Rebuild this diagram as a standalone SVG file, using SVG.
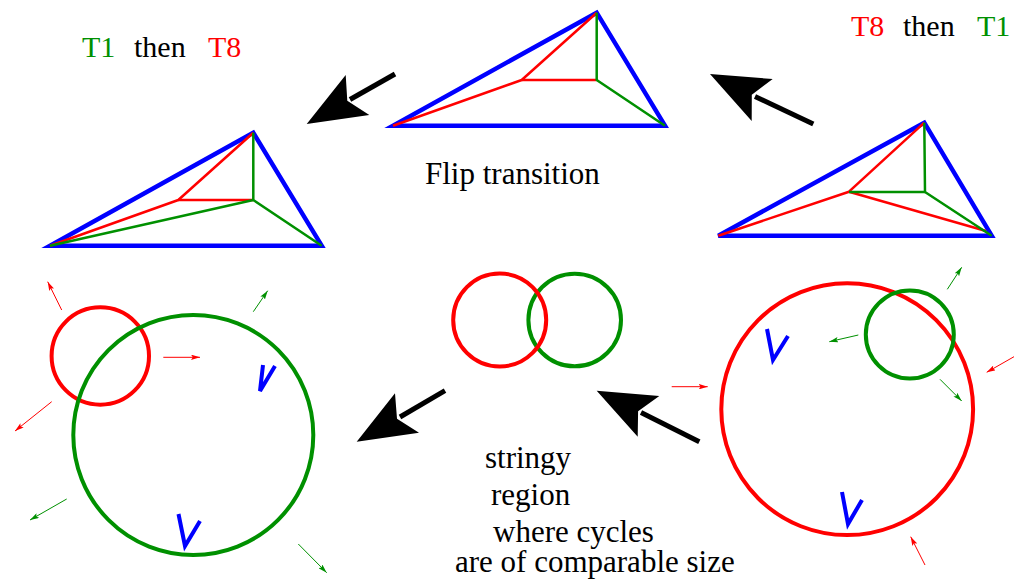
<svg xmlns="http://www.w3.org/2000/svg" width="1014" height="580" viewBox="0 0 1014 580">
<style>
.txt{font-family:"Liberation Serif","Times New Roman",serif;font-size:30px;fill:#000}
.big{font-size:31px}
.g{fill:#009000}.r{fill:#ff0000}
.tri{fill:none;stroke:#0000ff;stroke-width:4.5;stroke-linejoin:miter}
.rl{fill:none;stroke:#ff0000;stroke-width:2.5;stroke-linejoin:round}
.gl{fill:none;stroke:#009000;stroke-width:2.5;stroke-linejoin:round}
.rc{fill:none;stroke:#ff0000;stroke-width:4}
.gc{fill:none;stroke:#009000;stroke-width:4}
.v{fill:none;stroke:#0000ff;stroke-width:4;stroke-linejoin:miter}
.sa-r{stroke:#ff0000;stroke-width:1;marker-end:url(#ah-r)}
.sa-g{stroke:#009000;stroke-width:1;marker-end:url(#ah-g)}
.shaft{stroke:#000;stroke-width:5}
</style>
<defs>
<marker id="ah-r" viewBox="0 0 10 6" refX="10" refY="3" markerWidth="9" markerHeight="5.4" orient="auto" markerUnits="userSpaceOnUse"><path d="M0,0 L10,3 L0,6 L2,3 z" fill="#ff0000"/></marker>
<marker id="ah-g" viewBox="0 0 10 6" refX="10" refY="3" markerWidth="9" markerHeight="5.4" orient="auto" markerUnits="userSpaceOnUse"><path d="M0,0 L10,3 L0,6 L2,3 z" fill="#009000"/></marker>
</defs>
<rect width="1014" height="580" fill="#fff"/>

<g id="label-t1-then-t8">
<text class="txt" x="82" y="57"><tspan class="g">T1</tspan></text>
<text class="txt" x="134" y="57">then</text>
<text class="txt" x="208" y="57"><tspan class="r">T8</tspan></text>
</g>
<g id="label-t8-then-t1">
<text class="txt" x="851" y="36"><tspan class="r">T8</tspan></text>
<text class="txt" x="903" y="36">then</text>
<text class="txt" x="977" y="36"><tspan class="g">T1</tspan></text>
</g>
<g id="label-flip">
<text class="txt big" x="425" y="184">Flip transition</text>
</g>
<g id="label-stringy">
<text class="txt big" x="485" y="468">stringy</text>
<text class="txt big" x="491" y="505">region</text>
<text class="txt big" x="493" y="542">where cycles</text>
<text class="txt big" x="455" y="572">are of comparable size</text>
</g>

<g id="triangle-top">
<polygon class="tri" points="596.7,12.7 393,125.7 665,125.7"/>
<polyline class="rl" points="596.7,12.7 521.7,80 393,125.7"/>
<line class="rl" x1="521.7" y1="80" x2="596.7" y2="80"/>
<polyline class="gl" points="596.7,12.7 596.7,80 665,125.7"/>
</g>

<g id="triangle-left">
<polygon class="tri" points="253.3,132.7 50,245.7 321.7,245.7"/>
<polyline class="rl" points="253.3,132.7 178.3,200 50,245.7"/>
<line class="rl" x1="178.3" y1="200" x2="253.3" y2="200"/>
<polyline class="gl" points="253.3,132.7 253.3,200 321.7,245.7"/>
<line class="gl" x1="253.3" y1="200" x2="50" y2="245.7"/>
</g>

<g id="triangle-right">
<polygon class="tri" points="924.3,122.7 718.3,235.7 991.7,235.7"/>
<polyline class="rl" points="924.3,122.7 849,191.7 718.3,235.7"/>
<line class="rl" x1="849" y1="191.7" x2="986" y2="231"/>
<polyline class="gl" points="924.3,122.7 925,192 991.7,235.7"/>
<line class="gl" x1="849" y1="192" x2="925" y2="192"/>
</g>

<g id="cycles-left">
<circle class="rc" cx="100.3" cy="356" r="48.7"/>
<circle class="gc" cx="193.3" cy="435" r="120"/>
<polyline class="v" points="263,365 260,391 275,366"/>
<polyline class="v" points="178.5,514 185,546 200,521"/>
</g>

<g id="cycles-middle">
<circle class="gc" cx="574.7" cy="320" r="46.3"/>
<circle class="rc" cx="499.7" cy="320" r="46.5"/>
</g>

<g id="cycles-right">
<circle class="rc" cx="847.2" cy="409.2" r="125.9"/>
<circle class="gc" cx="909.8" cy="334.5" r="44"/>
<polyline class="v" points="767,329 773,360 788,336"/>
<polyline class="v" points="842,492 848,524 862,500"/>
</g>

<g id="connectors">
<line class="shaft" x1="395" y1="74" x2="350" y2="99.5"/>
<polygon points="306.7,124 345.7,75 347.3,100.8 369.3,115" fill="#000"/>
<line class="shaft" x1="813.3" y1="124" x2="755" y2="96.5"/>
<polygon points="710,74 772.7,79 751.8,94.8 751.7,121" fill="#000"/>
<line class="shaft" x1="445" y1="390.7" x2="400" y2="417"/>
<polygon points="356.7,441.7 395,393.3 397,418.7 419,432.7" fill="#000"/>
<line class="shaft" x1="699.3" y1="441.7" x2="641" y2="412.5"/>
<polygon points="596.7,390.7 659.3,396 638.1,411.2 637.7,436.7" fill="#000"/>

<line class="sa-r" x1="61.7" y1="310" x2="47.7" y2="281.7"/>
<line class="sa-r" x1="163.3" y1="357.3" x2="200" y2="357.3"/>
<line class="sa-r" x1="51.7" y1="401.7" x2="15" y2="431"/>
<line class="sa-g" x1="253.3" y1="311.7" x2="267.7" y2="290.7"/>
<line class="sa-g" x1="66.7" y1="499" x2="30" y2="520"/>
<line class="sa-g" x1="298.3" y1="544" x2="326.7" y2="572.7"/>

<line class="sa-g" x1="947.3" y1="289.3" x2="961.7" y2="267.3"/>
<line class="sa-g" x1="858.3" y1="335" x2="829.3" y2="341.7"/>
<line class="sa-g" x1="940" y1="379.3" x2="961.7" y2="401"/>
<line class="sa-r" x1="1014" y1="356.7" x2="986.7" y2="372.3"/>
<line class="sa-r" x1="671.7" y1="386.7" x2="707.7" y2="386.7"/>
<line class="sa-r" x1="925" y1="565" x2="910.7" y2="536.7"/>
</g>
</svg>
